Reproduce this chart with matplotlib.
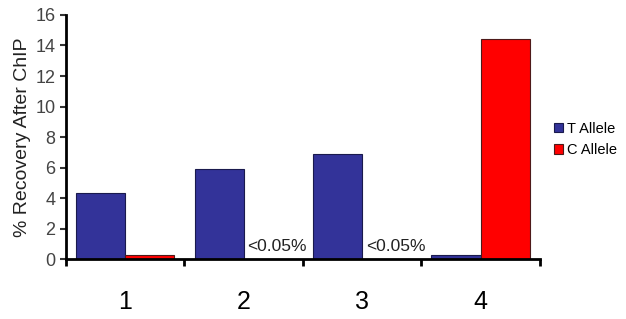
import matplotlib
matplotlib.use("Agg")
import matplotlib.pyplot as plt
import numpy as np

plt.rcParams['font.family'] = ['Liberation Sans', 'DejaVu Sans']

# Dados
groups = ['1', '2', '3', '4']
t_allele = [4.3, 5.9, 6.9, 0.25]
c_allele = [0.25, 0.0, 0.0, 14.4]
c_notes = ['', '<0.05%', '<0.05%', '']

fig = plt.figure(figsize=(6.26, 3.19), dpi=100)
ax = fig.add_axes([0.1054, 0.188, 0.757, 0.765])

x = np.arange(len(groups))
w = 0.415
ax.bar(x - w / 2, t_allele, w, color='#333399', edgecolor='#1a1a4d',
       linewidth=0.8, label='T Allele')
ax.bar(x + w / 2, c_allele, w, color='#ff0000', edgecolor='#4d1a1a',
       linewidth=0.8, label='C Allele')

for xi, note in zip(x, c_notes):
    if note:
        ax.text(xi + 0.03, 0.3, note, fontsize=12.5, ha='left', va='bottom',
                color='#222222')

ax.set_xlim(-0.5, 3.5)
ax.set_ylim(0, 16)
ax.set_yticks(np.arange(0, 17, 2))
ax.tick_params(axis='y', labelsize=13, length=4, width=1.5,
               direction='out', colors='#333333', labelcolor='#444444')

# marcas nos limites dos grupos, rotulos no centro
ax.set_xticks(np.arange(-0.5, 4, 1))
ax.set_xticklabels([])
ax.set_xticks(x, minor=True)
ax.set_xticklabels(groups, minor=True, fontsize=18)
ax.tick_params(axis='x', which='major', length=5, width=2, direction='out')
ax.tick_params(axis='x', which='minor', length=0, pad=22)

for s in ['top', 'right']:
    ax.spines[s].set_visible(False)
ax.spines['left'].set_linewidth(2)
ax.spines['bottom'].set_linewidth(2)

ax.set_ylabel('% Recovery After ChIP', fontsize=14, color='#222222', labelpad=3)

ax.legend(loc='center left', bbox_to_anchor=(1.002, 0.49), frameon=False,
          fontsize=10.5, handlelength=0.6, handleheight=0.6, handletextpad=0.3,
          labelspacing=0.5)

fig.savefig('out.png', dpi=100)
